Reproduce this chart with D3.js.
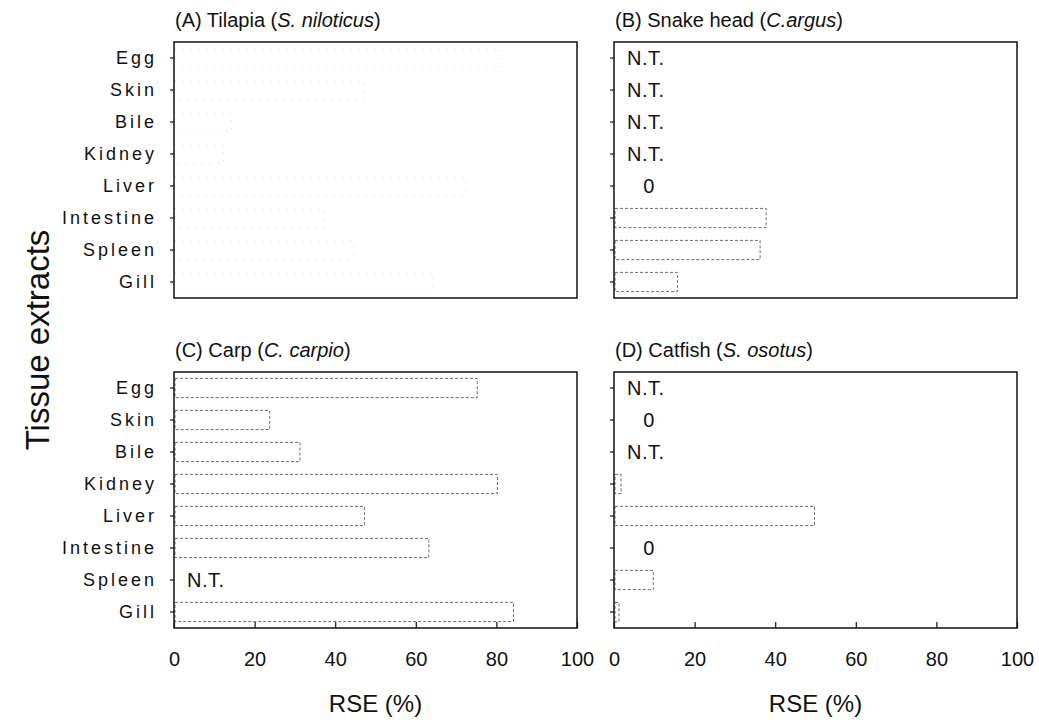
<!DOCTYPE html>
<html>
<head>
<meta charset="utf-8">
<script src="https://cdn.jsdelivr.net/npm/d3@7"></script>
<style>
  body { margin: 0; background: #fff; }
  svg { display: block; }
  text { font-family: "Liberation Sans", Arial, sans-serif; fill: #111; }
</style>
</head>
<body>
<svg id="chart"></svg>
<script>
// Tissues, top to bottom
const tissues = ["Egg", "Skin", "Bile", "Kidney", "Liver", "Intestine", "Spleen", "Gill"];

// RSE (%) per tissue; null = not tested (N.T.)
const tilapia   = [81, 47, 14, 12, 72, 37, 44, 64];
const snakehead = [null, null, null, null, 0, 37.5, 36, 15.5];
const carp      = [75, 23.5, 31, 80, 47, 63, null, 84];
const catfish   = [null, 0, null, 1.5, 49.5, 0, 9.5, 1];

const xTicks = [0, 20, 40, 60, 80, 100];

const width = 1039;
const height = 722;

const svg = d3.select('#chart')
    .attr('width', width)
    .attr('height', height);

// panel layout
const panels = [
    { data: tilapia,   left: 174, top: 42,  faint: true,  bottomAxis: false,
      title: ['(A) Tilapia (', 'S. niloticus', ')'] },
    { data: snakehead, left: 614, top: 42,  faint: false, bottomAxis: false,
      title: ['(B) Snake head (', 'C.argus', ')'] },
    { data: carp,      left: 174, top: 372, faint: false, bottomAxis: true,
      title: ['(C) Carp (', 'C. carpio', ')'] },
    { data: catfish,   left: 614, top: 372, faint: false, bottomAxis: true,
      title: ['(D) Catfish (', 'S. osotus', ')'] }
];
const pw = 403;
const ph = 256;

panels.forEach(p => {
    const g = svg.append('g')
        .attr('transform', `translate(${p.left},${p.top})`);

    const x = d3.scaleLinear().domain([0, 100]).range([0, pw]);
    const y = d3.scaleBand().domain(tissues).range([0, ph]).paddingInner(0.4).paddingOuter(0.2);

    const rows = tissues.map((t, i) => ({ tissue: t, value: p.data[i] }));

    // bars (hollow, dotted outline like the scanned figure)
    g.selectAll('rect.bar')
        .data(rows.filter(d => d.value !== null && d.value > 0))
        .enter()
        .append('rect')
        .attr('class', 'bar')
        .attr('x', x(0) + 1)
        .attr('y', d => y(d.tissue))
        .attr('width', d => x(d.value) - x(0))
        .attr('height', y.bandwidth())
        .attr('fill', 'none')
        .attr('stroke', p.faint ? '#dadada' : '#6a6a6a')
        .attr('stroke-width', 1)
        .attr('stroke-dasharray', p.faint ? '1,7' : '3,2');

    // N.T. and zero labels
    g.selectAll('text.note')
        .data(rows.filter(d => d.value === null || d.value === 0))
        .enter()
        .append('text')
        .attr('class', 'note')
        .attr('x', d => d.value === null ? x(0) + 13 : x(0) + 35)
        .attr('y', d => y(d.tissue) + y.bandwidth() / 2)
        .attr('dy', '0.36em')
        .attr('text-anchor', d => d.value === null ? 'start' : 'middle')
        .style('font-size', '20px')
        .style('letter-spacing', '0.5px')
        .text(d => d.value === null ? 'N.T.' : '0');

    // frame
    g.append('rect')
        .attr('width', pw)
        .attr('height', ph)
        .attr('fill', 'none')
        .attr('stroke', '#111')
        .attr('stroke-width', 1.5);

    // left axis: outward ticks, labels only on the left column
    const yAxis = g.append('g')
        .call(d3.axisLeft(y).tickSizeOuter(0).tickSize(4).tickFormat(p.left < 300 ? d => d : ''));
    yAxis.select('.domain').remove();
    yAxis.selectAll('line').attr('stroke', '#111').attr('stroke-width', 1.2);
    yAxis.selectAll('text')
        .attr('x', -17)
        .style('font-size', '18px')
        .style('letter-spacing', '3px')
        .style('font-family', '"Liberation Sans", Arial, sans-serif');

    // bottom axis: inward ticks
    if (p.bottomAxis) {
        const xAxis = g.append('g')
            .attr('transform', `translate(0,${ph})`)
            .call(d3.axisBottom(x).tickValues(xTicks).tickSize(-6).tickSizeOuter(0));
        xAxis.select('.domain').remove();
        xAxis.selectAll('line').attr('stroke', '#111').attr('stroke-width', 1.2);
        xAxis.selectAll('text')
            .attr('y', 24)
            .style('font-size', '20px')
            .style('font-family', '"Liberation Sans", Arial, sans-serif');

        g.append('text')
            .attr('x', pw / 2)
            .attr('y', ph + 84)
            .attr('text-anchor', 'middle')
            .style('font-size', '24px')
            .style('font-family', '"Liberation Sans", Arial, sans-serif')
            .text('RSE (%)');
    }

    // panel title with italic species name
    const title = g.append('text')
        .attr('x', 1)
        .attr('y', -15)
        .style('font-size', '20px')
        .style('font-family', '"Liberation Sans", Arial, sans-serif');
    title.append('tspan').text(p.title[0]);
    title.append('tspan').style('font-style', 'italic').text(p.title[1]);
    title.append('tspan').text(p.title[2]);
});

// shared y axis title
svg.append('text')
    .attr('transform', 'translate(49,340) rotate(-90)')
    .attr('text-anchor', 'middle')
    .style('font-size', '33px')
    .style('font-family', '"Liberation Sans", Arial, sans-serif')
    .text('Tissue extracts');
</script>
</body>
</html>
